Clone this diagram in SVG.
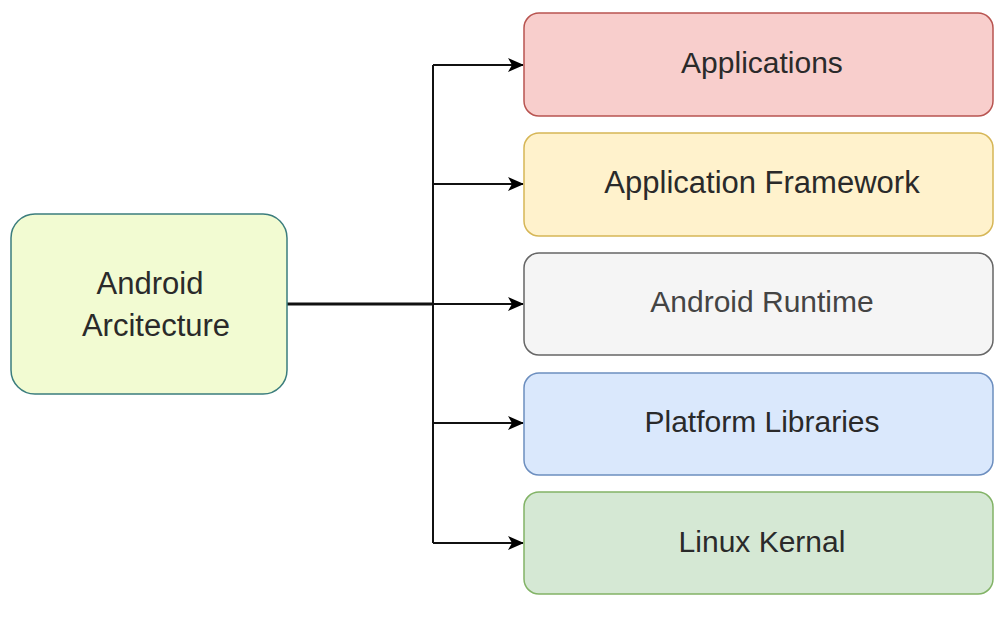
<svg xmlns="http://www.w3.org/2000/svg" width="994" height="628" viewBox="0 0 994 628">
<style>
text{font-family:"Liberation Sans",Arial,sans-serif;font-size:30px;fill:#2a2a2a;text-anchor:middle}
.box{stroke-width:1.5}
.c{fill:none;stroke:#111;stroke-width:2}
</style>
<defs>
<marker id="ah" markerWidth="16" markerHeight="14" refX="15" refY="7" orient="auto" markerUnits="userSpaceOnUse">
<path d="M0,0 L16,7 L0,14 L4,7 Z" fill="#000"/>
</marker>
</defs>
<rect width="994" height="628" fill="#fff"/>
<g id="connectors">
<path class="c" d="M287,304 H433" style="stroke-width:3"/>
<path class="c" d="M433,65 V543"/>
<path class="c" d="M433,65 H523" marker-end="url(#ah)"/>
<path class="c" d="M433,184 H523" marker-end="url(#ah)"/>
<path class="c" d="M433,304 H523" marker-end="url(#ah)"/>
<path class="c" d="M433,423 H523" marker-end="url(#ah)"/>
<path class="c" d="M433,543 H523" marker-end="url(#ah)"/>
</g>
<g id="android-arch">
<rect class="box" x="11" y="214" width="276" height="180" rx="24" fill="#f2fbd2" stroke="#3b7d7d"/>
<text x="150" y="294" style="font-size:31px">Android</text>
<text x="156" y="336" style="font-size:31px">Arcitecture</text>
</g>
<g id="applications">
<rect class="box" x="524" y="13" width="469" height="103" rx="15" fill="#f8cecc" stroke="#b85450"/>
<text x="762" y="73">Applications</text>
</g>
<g id="framework">
<rect class="box" x="524" y="133" width="469" height="103" rx="15" fill="#fff2cc" stroke="#d6b656"/>
<text x="762" y="193" style="font-size:31px">Application Framework</text>
</g>
<g id="runtime">
<rect class="box" x="524" y="253" width="469" height="102" rx="15" fill="#f5f5f5" stroke="#666666"/>
<text x="762" y="312" style="fill:#444">Android Runtime</text>
</g>
<g id="libraries">
<rect class="box" x="524" y="373" width="469" height="102" rx="15" fill="#dae8fc" stroke="#6c8ebf"/>
<text x="762" y="432">Platform Libraries</text>
</g>
<g id="kernel">
<rect class="box" x="524" y="492" width="469" height="102" rx="15" fill="#d5e8d4" stroke="#82b366"/>
<text x="762" y="552">Linux Kernal</text>
</g>
</svg>
